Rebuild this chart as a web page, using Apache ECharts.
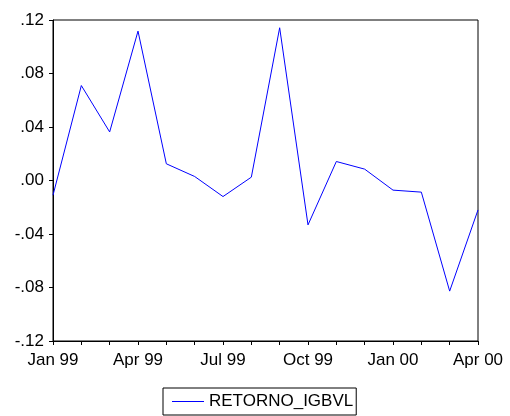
<!DOCTYPE html>
<html>
<head>
    <meta charset="utf-8">
    <title>RETORNO_IGBVL</title>
    <script src="https://cdn.jsdelivr.net/npm/echarts@6/dist/echarts.min.js"></script>
    <style>
        html, body { margin: 0; padding: 0; background: #fff; }
        #chart { width: 510px; height: 416px; }
    </style>
</head>
<body>
    <div id="chart"></div>
    <script type="text/javascript">
        // meses Jan 99 .. Apr 00
        var months = ['Jan 99', 'Feb 99', 'Mar 99', 'Apr 99', 'May 99', 'Jun 99', 'Jul 99', 'Aug 99',
                      'Sep 99', 'Oct 99', 'Nov 99', 'Dec 99', 'Jan 00', 'Feb 00', 'Mar 00', 'Apr 00'];
        var retorno = [-0.011, 0.071, 0.0363, 0.1117, 0.0125, 0.003, -0.012, 0.0025,
                       0.1142, -0.0332, 0.0142, 0.0085, -0.0072, -0.0087, -0.0827, -0.022];
        var yTicks = [-0.12, 0.12, 0.04]; // min, max, interval

        var chart = echarts.init(document.getElementById('chart'));

        var option = {
            animation: false,
            textStyle: { fontFamily: 'Liberation Sans, Arial, sans-serif' },
            grid: {
                left: 53, right: 32, top: 20, bottom: 75,
                show: true,
                borderColor: '#000',
                borderWidth: 1
            },
            legend: {
                bottom: 1,
                left: 163,
                data: ['RETORNO_IGBVL'],
                icon: 'rect',
                itemWidth: 32,
                itemHeight: 1,
                itemStyle: { color: '#0000FF' },
                padding: [5, 3, 5, 9],
                borderColor: '#000',
                borderWidth: 1,
                textStyle: { color: '#000', fontSize: 17 }
            },
            xAxis: {
                type: 'category',
                data: months,
                boundaryGap: false,
                axisLine: { onZero: false, lineStyle: { color: '#000' } },
                axisTick: { interval: 0, length: 4, lineStyle: { color: '#000' } },
                axisLabel: {
                    color: '#000',
                    fontSize: 17,
                    margin: 11,
                    interval: function (i) { return i % 3 === 0; }
                },
                splitLine: { show: false }
            },
            yAxis: {
                type: 'value',
                min: yTicks[0],
                max: yTicks[1],
                interval: yTicks[2],
                axisLine: { show: true, lineStyle: { color: '#000' } },
                axisTick: { show: true, length: 4, lineStyle: { color: '#000' } },
                axisLabel: {
                    color: '#000',
                    fontSize: 17,
                    margin: 9,
                    formatter: function (v) {
                        return v.toFixed(2).replace('0.', '.');
                    }
                },
                splitLine: { show: false }
            },
            series: [{
                name: 'RETORNO_IGBVL',
                type: 'line',
                data: retorno,
                symbol: 'none',
                lineStyle: { color: '#0000FF', width: 1 },
                itemStyle: { color: '#0000FF' }
            }]
        };
        chart.setOption(option);
    </script>
</body>
</html>
